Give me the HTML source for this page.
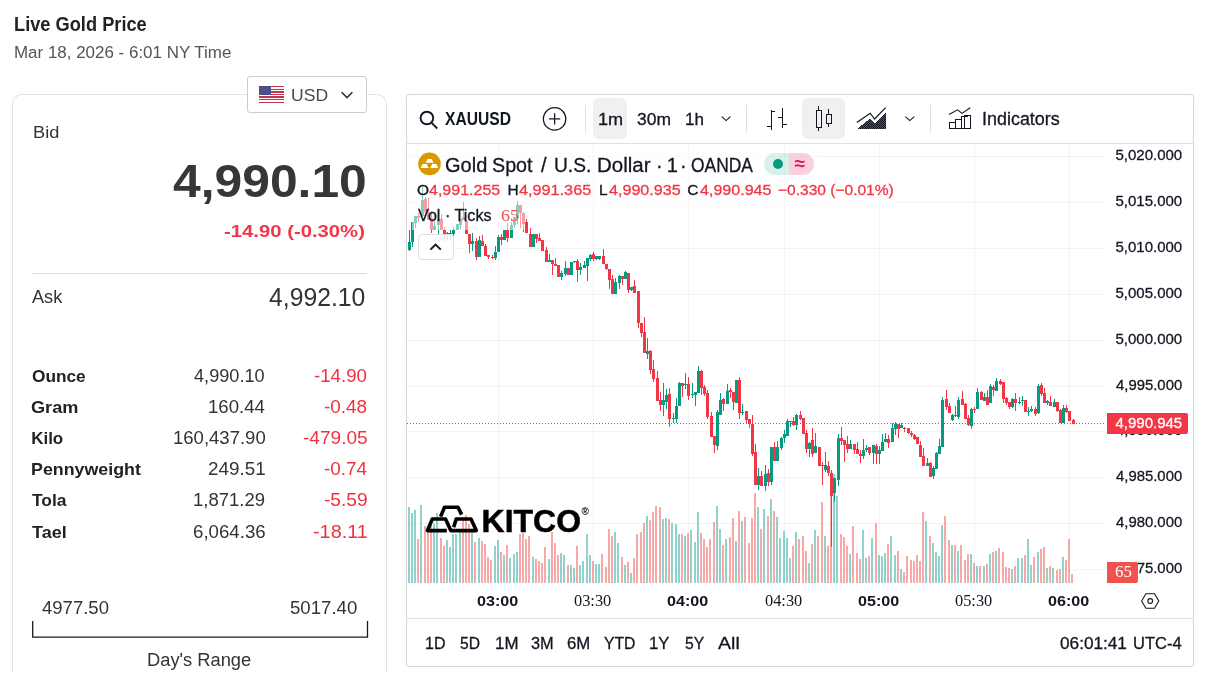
<!DOCTYPE html>
<html lang="en">
<head>
<meta charset="utf-8">
<title>Live Gold Price</title>
<style>
html,body{margin:0;padding:0;background:#fff;}
html{width:1211px;height:673px;overflow:hidden;}
body{width:1211px;height:673px;position:relative;overflow:hidden;font-family:"Liberation Sans",sans-serif;}
.t{position:absolute;white-space:pre;display:block;line-height:1;transform-origin:0 0;font-family:"Liberation Sans",sans-serif;font-weight:400;}
.sf{font-family:"Liberation Serif",serif;}
.abs{position:absolute;}
#card{left:12px;top:94px;width:373px;height:578px;border:1px solid #e4e4e4;border-bottom:none;border-radius:10px 10px 0 0;box-sizing:content-box;}
#cur{left:247px;top:76px;width:118px;height:35px;border:1px solid #ccc;border-radius:3px;background:#fff;}
#divider{left:32px;top:273px;width:335px;height:1px;background:#ddd;}
#bracket{left:32px;top:620.5px;}
#chart{left:406px;top:94px;width:786px;height:571px;border:1px solid #d6d6d6;border-radius:3px;background:#fff;}
#tbline{left:407px;top:143px;width:786px;height:1px;background:#e0e0e0;}
#btline{left:407px;top:618px;width:786px;height:1px;background:#e0e0e0;}
.sep{width:1px;height:28px;top:105px;background:#e0e0e0;}
.btn{top:98px;height:41px;border-radius:6px;background:#f0f0f0;}
#plot{left:407px;top:144px;width:699px;height:440px;overflow:hidden;}

.fade{background:rgba(255,255,255,0.5);}
#collapse{left:418px;top:234px;width:36px;height:26px;box-sizing:border-box;border:1px solid #e0e0e0;border-radius:4px;background:rgba(255,255,255,0.82);}
#dotline{left:407px;top:423px;width:699px;height:1px;background:repeating-linear-gradient(90deg,#f23645 0,#f23645 1px,transparent 1px,transparent 3px);}
#pill{left:764px;top:153px;width:50px;height:22px;border-radius:11px;overflow:hidden;}
#plabel{left:1107px;top:413px;width:81px;height:21px;background:#f23645;border-radius:0 2px 2px 0;}
#vlabel{left:1107px;top:562px;width:31px;height:21px;background:#ef5350;border-radius:0 2px 2px 0;}
</style>
</head>
<body>
<div id="card" class="abs"></div>
<div id="cur" class="abs">
<svg class="abs" style="left:11px;top:9px" width="25" height="17" viewBox="0 0 25 17" shape-rendering="crispEdges">
<rect width="25" height="17" fill="#fff"/>
<g fill="#c8334a"><rect y="0" width="25" height="1.4"/><rect y="2.6" width="25" height="1.3"/><rect y="5.2" width="25" height="1.3"/><rect y="7.8" width="25" height="1.3"/><rect y="10.4" width="25" height="1.3"/><rect y="13" width="25" height="1.3"/><rect y="15.6" width="25" height="1.4"/></g>
<rect width="12" height="9.2" fill="#4b4f8c"/>
</svg>
<svg class="abs" style="left:92px;top:13px" width="14" height="10" viewBox="0 0 14 10"><path d="M1.6 2.2 L7 7.6 L12.4 2.2" fill="none" stroke="#333" stroke-width="1.6"/></svg>
</div>
<div id="divider" class="abs"></div>
<svg id="bracket" class="abs" width="337" height="18" viewBox="0 0 337 18"><path d="M0.7 0 V16.1 H335.5 V0" fill="none" stroke="#1a1a1a" stroke-width="1.3"/></svg>
<div id="chart" class="abs"></div>
<div id="tbline" class="abs"></div>
<div id="btline" class="abs"></div>
<div class="abs sep" style="left:585px"></div>
<div class="abs sep" style="left:746px"></div>
<div class="abs sep" style="left:930px"></div>
<div class="abs btn" style="left:593px;width:34px"></div>
<div class="abs btn" style="left:802px;width:43px"></div>
<svg id="plot" class="abs" width="699" height="440" viewBox="0 0 699 440" shape-rendering="crispEdges">
<rect x="91" y="0" width="1" height="440" fill="rgba(0,0,0,0.043)"/>
<rect x="186" y="0" width="1" height="440" fill="rgba(0,0,0,0.043)"/>
<rect x="281" y="0" width="1" height="440" fill="rgba(0,0,0,0.043)"/>
<rect x="377" y="0" width="1" height="440" fill="rgba(0,0,0,0.043)"/>
<rect x="472" y="0" width="1" height="440" fill="rgba(0,0,0,0.043)"/>
<rect x="567" y="0" width="1" height="440" fill="rgba(0,0,0,0.043)"/>
<rect x="662" y="0" width="1" height="440" fill="rgba(0,0,0,0.043)"/>
<rect x="0" y="12" width="699" height="1" fill="rgba(0,0,0,0.043)"/>
<rect x="0" y="58" width="699" height="1" fill="rgba(0,0,0,0.043)"/>
<rect x="0" y="104" width="699" height="1" fill="rgba(0,0,0,0.043)"/>
<rect x="0" y="150" width="699" height="1" fill="rgba(0,0,0,0.043)"/>
<rect x="0" y="196" width="699" height="1" fill="rgba(0,0,0,0.043)"/>
<rect x="0" y="242" width="699" height="1" fill="rgba(0,0,0,0.043)"/>
<rect x="0" y="287" width="699" height="1" fill="rgba(0,0,0,0.043)"/>
<rect x="0" y="333" width="699" height="1" fill="rgba(0,0,0,0.043)"/>
<rect x="0" y="379" width="699" height="1" fill="rgba(0,0,0,0.043)"/>
<rect x="0" y="425" width="699" height="1" fill="rgba(0,0,0,0.043)"/>
<rect x="1" y="363" width="2" height="76" fill="rgba(38,166,154,0.5)"/>
<rect x="4" y="369" width="2" height="70" fill="rgba(38,166,154,0.5)"/>
<rect x="7" y="366" width="2" height="73" fill="rgba(38,166,154,0.5)"/>
<rect x="10" y="395" width="2" height="44" fill="rgba(239,83,80,0.5)"/>
<rect x="13" y="361" width="2" height="78" fill="rgba(38,166,154,0.5)"/>
<rect x="17" y="382" width="2" height="57" fill="rgba(239,83,80,0.5)"/>
<rect x="20" y="384" width="2" height="55" fill="rgba(239,83,80,0.5)"/>
<rect x="23" y="380" width="2" height="59" fill="rgba(239,83,80,0.5)"/>
<rect x="26" y="380" width="2" height="59" fill="rgba(38,166,154,0.5)"/>
<rect x="29" y="369" width="2" height="70" fill="rgba(38,166,154,0.5)"/>
<rect x="33" y="394" width="2" height="45" fill="rgba(239,83,80,0.5)"/>
<rect x="36" y="402" width="2" height="37" fill="rgba(239,83,80,0.5)"/>
<rect x="39" y="396" width="2" height="43" fill="rgba(38,166,154,0.5)"/>
<rect x="42" y="403" width="2" height="36" fill="rgba(38,166,154,0.5)"/>
<rect x="45" y="390" width="2" height="49" fill="rgba(38,166,154,0.5)"/>
<rect x="48" y="390" width="2" height="49" fill="rgba(38,166,154,0.5)"/>
<rect x="52" y="388" width="2" height="51" fill="rgba(38,166,154,0.5)"/>
<rect x="55" y="376" width="2" height="63" fill="rgba(239,83,80,0.5)"/>
<rect x="58" y="371" width="2" height="68" fill="rgba(239,83,80,0.5)"/>
<rect x="61" y="380" width="2" height="59" fill="rgba(239,83,80,0.5)"/>
<rect x="64" y="388" width="2" height="51" fill="rgba(38,166,154,0.5)"/>
<rect x="67" y="398" width="2" height="41" fill="rgba(239,83,80,0.5)"/>
<rect x="71" y="394" width="2" height="45" fill="rgba(38,166,154,0.5)"/>
<rect x="74" y="397" width="2" height="42" fill="rgba(239,83,80,0.5)"/>
<rect x="77" y="400" width="2" height="39" fill="rgba(239,83,80,0.5)"/>
<rect x="80" y="413" width="2" height="26" fill="rgba(239,83,80,0.5)"/>
<rect x="83" y="416" width="2" height="23" fill="rgba(239,83,80,0.5)"/>
<rect x="87" y="402" width="2" height="37" fill="rgba(38,166,154,0.5)"/>
<rect x="90" y="396" width="2" height="43" fill="rgba(38,166,154,0.5)"/>
<rect x="93" y="408" width="2" height="31" fill="rgba(239,83,80,0.5)"/>
<rect x="96" y="411" width="2" height="28" fill="rgba(38,166,154,0.5)"/>
<rect x="99" y="401" width="2" height="38" fill="rgba(239,83,80,0.5)"/>
<rect x="102" y="414" width="2" height="25" fill="rgba(38,166,154,0.5)"/>
<rect x="106" y="410" width="2" height="29" fill="rgba(38,166,154,0.5)"/>
<rect x="109" y="408" width="2" height="31" fill="rgba(38,166,154,0.5)"/>
<rect x="112" y="390" width="2" height="49" fill="rgba(239,83,80,0.5)"/>
<rect x="115" y="389" width="2" height="50" fill="rgba(239,83,80,0.5)"/>
<rect x="118" y="395" width="2" height="44" fill="rgba(239,83,80,0.5)"/>
<rect x="121" y="392" width="2" height="47" fill="rgba(239,83,80,0.5)"/>
<rect x="125" y="413" width="2" height="26" fill="rgba(38,166,154,0.5)"/>
<rect x="128" y="415" width="2" height="24" fill="rgba(239,83,80,0.5)"/>
<rect x="131" y="417" width="2" height="22" fill="rgba(239,83,80,0.5)"/>
<rect x="134" y="419" width="2" height="20" fill="rgba(239,83,80,0.5)"/>
<rect x="137" y="403" width="2" height="36" fill="rgba(239,83,80,0.5)"/>
<rect x="141" y="415" width="2" height="24" fill="rgba(38,166,154,0.5)"/>
<rect x="144" y="388" width="2" height="51" fill="rgba(239,83,80,0.5)"/>
<rect x="147" y="399" width="2" height="40" fill="rgba(239,83,80,0.5)"/>
<rect x="150" y="411" width="2" height="28" fill="rgba(239,83,80,0.5)"/>
<rect x="153" y="409" width="2" height="30" fill="rgba(38,166,154,0.5)"/>
<rect x="156" y="411" width="2" height="28" fill="rgba(38,166,154,0.5)"/>
<rect x="160" y="421" width="2" height="18" fill="rgba(239,83,80,0.5)"/>
<rect x="163" y="421" width="2" height="18" fill="rgba(38,166,154,0.5)"/>
<rect x="166" y="424" width="2" height="15" fill="rgba(38,166,154,0.5)"/>
<rect x="169" y="402" width="2" height="37" fill="rgba(239,83,80,0.5)"/>
<rect x="172" y="421" width="2" height="18" fill="rgba(38,166,154,0.5)"/>
<rect x="175" y="417" width="2" height="22" fill="rgba(38,166,154,0.5)"/>
<rect x="179" y="390" width="2" height="49" fill="rgba(38,166,154,0.5)"/>
<rect x="182" y="411" width="2" height="28" fill="rgba(38,166,154,0.5)"/>
<rect x="185" y="417" width="2" height="22" fill="rgba(239,83,80,0.5)"/>
<rect x="188" y="420" width="2" height="19" fill="rgba(38,166,154,0.5)"/>
<rect x="191" y="420" width="2" height="19" fill="rgba(38,166,154,0.5)"/>
<rect x="194" y="410" width="2" height="29" fill="rgba(239,83,80,0.5)"/>
<rect x="198" y="423" width="2" height="16" fill="rgba(239,83,80,0.5)"/>
<rect x="201" y="385" width="2" height="54" fill="rgba(239,83,80,0.5)"/>
<rect x="204" y="392" width="2" height="47" fill="rgba(239,83,80,0.5)"/>
<rect x="207" y="388" width="2" height="51" fill="rgba(38,166,154,0.5)"/>
<rect x="210" y="399" width="2" height="40" fill="rgba(38,166,154,0.5)"/>
<rect x="214" y="413" width="2" height="26" fill="rgba(239,83,80,0.5)"/>
<rect x="217" y="421" width="2" height="18" fill="rgba(38,166,154,0.5)"/>
<rect x="220" y="418" width="2" height="21" fill="rgba(239,83,80,0.5)"/>
<rect x="223" y="429" width="2" height="10" fill="rgba(38,166,154,0.5)"/>
<rect x="226" y="414" width="2" height="25" fill="rgba(239,83,80,0.5)"/>
<rect x="229" y="390" width="2" height="49" fill="rgba(239,83,80,0.5)"/>
<rect x="233" y="388" width="2" height="51" fill="rgba(239,83,80,0.5)"/>
<rect x="236" y="379" width="2" height="60" fill="rgba(239,83,80,0.5)"/>
<rect x="239" y="372" width="2" height="67" fill="rgba(38,166,154,0.5)"/>
<rect x="242" y="376" width="2" height="63" fill="rgba(239,83,80,0.5)"/>
<rect x="245" y="368" width="2" height="71" fill="rgba(239,83,80,0.5)"/>
<rect x="248" y="362" width="2" height="77" fill="rgba(239,83,80,0.5)"/>
<rect x="252" y="363" width="2" height="76" fill="rgba(239,83,80,0.5)"/>
<rect x="255" y="375" width="2" height="64" fill="rgba(38,166,154,0.5)"/>
<rect x="258" y="374" width="2" height="65" fill="rgba(38,166,154,0.5)"/>
<rect x="261" y="375" width="2" height="64" fill="rgba(239,83,80,0.5)"/>
<rect x="264" y="379" width="2" height="60" fill="rgba(38,166,154,0.5)"/>
<rect x="268" y="380" width="2" height="59" fill="rgba(38,166,154,0.5)"/>
<rect x="271" y="390" width="2" height="49" fill="rgba(38,166,154,0.5)"/>
<rect x="274" y="390" width="2" height="49" fill="rgba(239,83,80,0.5)"/>
<rect x="277" y="392" width="2" height="47" fill="rgba(38,166,154,0.5)"/>
<rect x="280" y="389" width="2" height="50" fill="rgba(239,83,80,0.5)"/>
<rect x="283" y="386" width="2" height="53" fill="rgba(38,166,154,0.5)"/>
<rect x="287" y="398" width="2" height="41" fill="rgba(38,166,154,0.5)"/>
<rect x="290" y="368" width="2" height="71" fill="rgba(38,166,154,0.5)"/>
<rect x="293" y="389" width="2" height="50" fill="rgba(239,83,80,0.5)"/>
<rect x="296" y="395" width="2" height="44" fill="rgba(239,83,80,0.5)"/>
<rect x="299" y="403" width="2" height="36" fill="rgba(239,83,80,0.5)"/>
<rect x="302" y="395" width="2" height="44" fill="rgba(239,83,80,0.5)"/>
<rect x="306" y="378" width="2" height="61" fill="rgba(239,83,80,0.5)"/>
<rect x="309" y="362" width="2" height="77" fill="rgba(38,166,154,0.5)"/>
<rect x="312" y="385" width="2" height="54" fill="rgba(38,166,154,0.5)"/>
<rect x="315" y="401" width="2" height="38" fill="rgba(239,83,80,0.5)"/>
<rect x="318" y="395" width="2" height="44" fill="rgba(38,166,154,0.5)"/>
<rect x="322" y="393" width="2" height="46" fill="rgba(239,83,80,0.5)"/>
<rect x="325" y="374" width="2" height="65" fill="rgba(239,83,80,0.5)"/>
<rect x="328" y="397" width="2" height="42" fill="rgba(38,166,154,0.5)"/>
<rect x="331" y="367" width="2" height="72" fill="rgba(239,83,80,0.5)"/>
<rect x="334" y="377" width="2" height="62" fill="rgba(38,166,154,0.5)"/>
<rect x="337" y="373" width="2" height="66" fill="rgba(239,83,80,0.5)"/>
<rect x="341" y="399" width="2" height="40" fill="rgba(239,83,80,0.5)"/>
<rect x="344" y="374" width="2" height="65" fill="rgba(239,83,80,0.5)"/>
<rect x="347" y="349" width="2" height="90" fill="rgba(239,83,80,0.5)"/>
<rect x="350" y="363" width="2" height="76" fill="rgba(38,166,154,0.5)"/>
<rect x="353" y="385" width="2" height="54" fill="rgba(239,83,80,0.5)"/>
<rect x="356" y="365" width="2" height="74" fill="rgba(38,166,154,0.5)"/>
<rect x="360" y="372" width="2" height="67" fill="rgba(239,83,80,0.5)"/>
<rect x="363" y="355" width="2" height="84" fill="rgba(38,166,154,0.5)"/>
<rect x="366" y="367" width="2" height="72" fill="rgba(239,83,80,0.5)"/>
<rect x="369" y="373" width="2" height="66" fill="rgba(38,166,154,0.5)"/>
<rect x="372" y="394" width="2" height="45" fill="rgba(38,166,154,0.5)"/>
<rect x="376" y="387" width="2" height="52" fill="rgba(38,166,154,0.5)"/>
<rect x="379" y="394" width="2" height="45" fill="rgba(38,166,154,0.5)"/>
<rect x="382" y="414" width="2" height="25" fill="rgba(38,166,154,0.5)"/>
<rect x="385" y="402" width="2" height="37" fill="rgba(239,83,80,0.5)"/>
<rect x="388" y="388" width="2" height="51" fill="rgba(38,166,154,0.5)"/>
<rect x="391" y="395" width="2" height="44" fill="rgba(239,83,80,0.5)"/>
<rect x="395" y="392" width="2" height="47" fill="rgba(239,83,80,0.5)"/>
<rect x="398" y="407" width="2" height="32" fill="rgba(239,83,80,0.5)"/>
<rect x="401" y="419" width="2" height="20" fill="rgba(38,166,154,0.5)"/>
<rect x="404" y="400" width="2" height="39" fill="rgba(239,83,80,0.5)"/>
<rect x="407" y="386" width="2" height="53" fill="rgba(38,166,154,0.5)"/>
<rect x="410" y="392" width="2" height="47" fill="rgba(239,83,80,0.5)"/>
<rect x="414" y="358" width="2" height="81" fill="rgba(239,83,80,0.5)"/>
<rect x="417" y="392" width="2" height="47" fill="rgba(38,166,154,0.5)"/>
<rect x="420" y="402" width="2" height="37" fill="rgba(239,83,80,0.5)"/>
<rect x="423" y="336" width="2" height="103" fill="rgba(239,83,80,0.5)"/>
<rect x="426" y="330" width="2" height="109" fill="rgba(38,166,154,0.5)"/>
<rect x="429" y="352" width="2" height="87" fill="rgba(38,166,154,0.5)"/>
<rect x="433" y="390" width="2" height="49" fill="rgba(239,83,80,0.5)"/>
<rect x="436" y="393" width="2" height="46" fill="rgba(239,83,80,0.5)"/>
<rect x="439" y="402" width="2" height="37" fill="rgba(239,83,80,0.5)"/>
<rect x="442" y="410" width="2" height="29" fill="rgba(38,166,154,0.5)"/>
<rect x="445" y="382" width="2" height="57" fill="rgba(239,83,80,0.5)"/>
<rect x="449" y="409" width="2" height="30" fill="rgba(239,83,80,0.5)"/>
<rect x="452" y="415" width="2" height="24" fill="rgba(239,83,80,0.5)"/>
<rect x="455" y="386" width="2" height="53" fill="rgba(38,166,154,0.5)"/>
<rect x="458" y="414" width="2" height="25" fill="rgba(38,166,154,0.5)"/>
<rect x="461" y="412" width="2" height="27" fill="rgba(239,83,80,0.5)"/>
<rect x="464" y="394" width="2" height="45" fill="rgba(38,166,154,0.5)"/>
<rect x="468" y="379" width="2" height="60" fill="rgba(239,83,80,0.5)"/>
<rect x="471" y="411" width="2" height="28" fill="rgba(38,166,154,0.5)"/>
<rect x="474" y="412" width="2" height="27" fill="rgba(38,166,154,0.5)"/>
<rect x="477" y="409" width="2" height="30" fill="rgba(38,166,154,0.5)"/>
<rect x="480" y="400" width="2" height="39" fill="rgba(239,83,80,0.5)"/>
<rect x="483" y="392" width="2" height="47" fill="rgba(38,166,154,0.5)"/>
<rect x="487" y="411" width="2" height="28" fill="rgba(38,166,154,0.5)"/>
<rect x="490" y="407" width="2" height="32" fill="rgba(239,83,80,0.5)"/>
<rect x="493" y="425" width="2" height="14" fill="rgba(38,166,154,0.5)"/>
<rect x="496" y="428" width="2" height="11" fill="rgba(239,83,80,0.5)"/>
<rect x="499" y="412" width="2" height="27" fill="rgba(239,83,80,0.5)"/>
<rect x="503" y="416" width="2" height="23" fill="rgba(239,83,80,0.5)"/>
<rect x="506" y="417" width="2" height="22" fill="rgba(239,83,80,0.5)"/>
<rect x="509" y="411" width="2" height="28" fill="rgba(239,83,80,0.5)"/>
<rect x="512" y="417" width="2" height="22" fill="rgba(239,83,80,0.5)"/>
<rect x="515" y="368" width="2" height="71" fill="rgba(239,83,80,0.5)"/>
<rect x="518" y="377" width="2" height="62" fill="rgba(38,166,154,0.5)"/>
<rect x="522" y="392" width="2" height="47" fill="rgba(239,83,80,0.5)"/>
<rect x="525" y="399" width="2" height="40" fill="rgba(38,166,154,0.5)"/>
<rect x="528" y="408" width="2" height="31" fill="rgba(38,166,154,0.5)"/>
<rect x="531" y="412" width="2" height="27" fill="rgba(38,166,154,0.5)"/>
<rect x="534" y="381" width="2" height="58" fill="rgba(38,166,154,0.5)"/>
<rect x="537" y="372" width="2" height="67" fill="rgba(239,83,80,0.5)"/>
<rect x="541" y="396" width="2" height="43" fill="rgba(239,83,80,0.5)"/>
<rect x="544" y="401" width="2" height="38" fill="rgba(38,166,154,0.5)"/>
<rect x="547" y="401" width="2" height="38" fill="rgba(239,83,80,0.5)"/>
<rect x="550" y="407" width="2" height="32" fill="rgba(38,166,154,0.5)"/>
<rect x="553" y="401" width="2" height="38" fill="rgba(239,83,80,0.5)"/>
<rect x="557" y="416" width="2" height="23" fill="rgba(239,83,80,0.5)"/>
<rect x="560" y="410" width="2" height="29" fill="rgba(239,83,80,0.5)"/>
<rect x="563" y="410" width="2" height="29" fill="rgba(38,166,154,0.5)"/>
<rect x="566" y="419" width="2" height="20" fill="rgba(239,83,80,0.5)"/>
<rect x="569" y="422" width="2" height="17" fill="rgba(38,166,154,0.5)"/>
<rect x="572" y="422" width="2" height="17" fill="rgba(239,83,80,0.5)"/>
<rect x="576" y="422" width="2" height="17" fill="rgba(38,166,154,0.5)"/>
<rect x="579" y="420" width="2" height="19" fill="rgba(239,83,80,0.5)"/>
<rect x="582" y="410" width="2" height="29" fill="rgba(38,166,154,0.5)"/>
<rect x="585" y="408" width="2" height="31" fill="rgba(239,83,80,0.5)"/>
<rect x="588" y="407" width="2" height="32" fill="rgba(38,166,154,0.5)"/>
<rect x="591" y="404" width="2" height="35" fill="rgba(239,83,80,0.5)"/>
<rect x="595" y="408" width="2" height="31" fill="rgba(239,83,80,0.5)"/>
<rect x="598" y="423" width="2" height="16" fill="rgba(239,83,80,0.5)"/>
<rect x="601" y="424" width="2" height="15" fill="rgba(239,83,80,0.5)"/>
<rect x="604" y="425" width="2" height="14" fill="rgba(38,166,154,0.5)"/>
<rect x="607" y="422" width="2" height="17" fill="rgba(239,83,80,0.5)"/>
<rect x="610" y="414" width="2" height="25" fill="rgba(38,166,154,0.5)"/>
<rect x="614" y="414" width="2" height="25" fill="rgba(38,166,154,0.5)"/>
<rect x="617" y="411" width="2" height="28" fill="rgba(239,83,80,0.5)"/>
<rect x="620" y="395" width="2" height="44" fill="rgba(38,166,154,0.5)"/>
<rect x="623" y="421" width="2" height="18" fill="rgba(38,166,154,0.5)"/>
<rect x="626" y="413" width="2" height="26" fill="rgba(239,83,80,0.5)"/>
<rect x="630" y="408" width="2" height="31" fill="rgba(38,166,154,0.5)"/>
<rect x="633" y="405" width="2" height="34" fill="rgba(239,83,80,0.5)"/>
<rect x="636" y="403" width="2" height="36" fill="rgba(239,83,80,0.5)"/>
<rect x="639" y="424" width="2" height="15" fill="rgba(38,166,154,0.5)"/>
<rect x="642" y="422" width="2" height="17" fill="rgba(239,83,80,0.5)"/>
<rect x="645" y="424" width="2" height="15" fill="rgba(38,166,154,0.5)"/>
<rect x="649" y="426" width="2" height="13" fill="rgba(239,83,80,0.5)"/>
<rect x="652" y="425" width="2" height="14" fill="rgba(239,83,80,0.5)"/>
<rect x="655" y="413" width="2" height="26" fill="rgba(38,166,154,0.5)"/>
<rect x="658" y="416" width="2" height="23" fill="rgba(239,83,80,0.5)"/>
<rect x="661" y="395" width="2" height="44" fill="rgba(239,83,80,0.5)"/>
<rect x="664" y="430" width="2" height="9" fill="rgba(239,83,80,0.5)"/>
<rect x="2" y="86" width="1" height="21" fill="#089981"/>
<rect x="1" y="98" width="3" height="8" fill="#089981"/>
<rect x="5" y="78" width="1" height="25" fill="#089981"/>
<rect x="4" y="78" width="3" height="20" fill="#089981"/>
<rect x="8" y="72" width="1" height="12" fill="#089981"/>
<rect x="7" y="72" width="3" height="7" fill="#089981"/>
<rect x="11" y="69" width="1" height="9" fill="#f23645"/>
<rect x="10" y="72" width="3" height="2" fill="#f23645"/>
<rect x="15" y="43" width="1" height="29" fill="#089981"/>
<rect x="14" y="56" width="3" height="16" fill="#089981"/>
<rect x="18" y="53" width="1" height="15" fill="#f23645"/>
<rect x="17" y="55" width="3" height="13" fill="#f23645"/>
<rect x="21" y="54" width="1" height="22" fill="#f23645"/>
<rect x="20" y="68" width="3" height="8" fill="#f23645"/>
<rect x="24" y="67" width="1" height="22" fill="#f23645"/>
<rect x="23" y="74" width="3" height="12" fill="#f23645"/>
<rect x="27" y="77" width="1" height="9" fill="#089981"/>
<rect x="26" y="82" width="3" height="4" fill="#089981"/>
<rect x="31" y="75" width="1" height="15" fill="#089981"/>
<rect x="30" y="75" width="3" height="6" fill="#089981"/>
<rect x="34" y="70" width="1" height="16" fill="#f23645"/>
<rect x="33" y="75" width="3" height="11" fill="#f23645"/>
<rect x="37" y="83" width="1" height="14" fill="#f23645"/>
<rect x="36" y="86" width="3" height="4" fill="#f23645"/>
<rect x="40" y="88" width="1" height="8" fill="#089981"/>
<rect x="39" y="89" width="3" height="1" fill="#089981"/>
<rect x="43" y="86" width="1" height="11" fill="#089981"/>
<rect x="42" y="89" width="3" height="1" fill="#089981"/>
<rect x="46" y="83" width="1" height="9" fill="#089981"/>
<rect x="45" y="86" width="3" height="4" fill="#089981"/>
<rect x="49" y="80" width="3" height="6" fill="#089981"/>
<rect x="53" y="75" width="1" height="10" fill="#089981"/>
<rect x="52" y="75" width="3" height="6" fill="#089981"/>
<rect x="56" y="58" width="1" height="18" fill="#f23645"/>
<rect x="55" y="73" width="3" height="3" fill="#f23645"/>
<rect x="58" y="76" width="3" height="14" fill="#f23645"/>
<rect x="62" y="90" width="1" height="19" fill="#f23645"/>
<rect x="61" y="90" width="3" height="10" fill="#f23645"/>
<rect x="65" y="89" width="1" height="18" fill="#089981"/>
<rect x="64" y="97" width="3" height="3" fill="#089981"/>
<rect x="69" y="94" width="1" height="22" fill="#f23645"/>
<rect x="68" y="97" width="3" height="16" fill="#f23645"/>
<rect x="72" y="92" width="1" height="21" fill="#089981"/>
<rect x="71" y="96" width="3" height="17" fill="#089981"/>
<rect x="75" y="91" width="1" height="11" fill="#f23645"/>
<rect x="74" y="97" width="3" height="5" fill="#f23645"/>
<rect x="78" y="100" width="1" height="12" fill="#f23645"/>
<rect x="77" y="102" width="3" height="10" fill="#f23645"/>
<rect x="81" y="111" width="1" height="4" fill="#f23645"/>
<rect x="80" y="111" width="3" height="2" fill="#f23645"/>
<rect x="85" y="111" width="1" height="4" fill="#f23645"/>
<rect x="84" y="113" width="3" height="1" fill="#f23645"/>
<rect x="88" y="102" width="1" height="14" fill="#089981"/>
<rect x="87" y="108" width="3" height="6" fill="#089981"/>
<rect x="91" y="91" width="1" height="17" fill="#089981"/>
<rect x="90" y="93" width="3" height="15" fill="#089981"/>
<rect x="94" y="90" width="1" height="11" fill="#f23645"/>
<rect x="93" y="93" width="3" height="3" fill="#f23645"/>
<rect x="96" y="86" width="3" height="10" fill="#089981"/>
<rect x="100" y="79" width="1" height="19" fill="#f23645"/>
<rect x="99" y="86" width="3" height="8" fill="#f23645"/>
<rect x="104" y="78" width="1" height="16" fill="#089981"/>
<rect x="103" y="81" width="3" height="13" fill="#089981"/>
<rect x="107" y="73" width="1" height="11" fill="#089981"/>
<rect x="106" y="73" width="3" height="8" fill="#089981"/>
<rect x="110" y="57" width="1" height="23" fill="#089981"/>
<rect x="109" y="61" width="3" height="13" fill="#089981"/>
<rect x="113" y="61" width="1" height="23" fill="#f23645"/>
<rect x="112" y="61" width="3" height="8" fill="#f23645"/>
<rect x="116" y="68" width="1" height="20" fill="#f23645"/>
<rect x="115" y="69" width="3" height="11" fill="#f23645"/>
<rect x="119" y="75" width="1" height="14" fill="#f23645"/>
<rect x="118" y="78" width="3" height="11" fill="#f23645"/>
<rect x="123" y="84" width="1" height="19" fill="#f23645"/>
<rect x="122" y="90" width="3" height="13" fill="#f23645"/>
<rect x="125" y="90" width="3" height="13" fill="#089981"/>
<rect x="129" y="90" width="1" height="9" fill="#f23645"/>
<rect x="128" y="90" width="3" height="5" fill="#f23645"/>
<rect x="132" y="89" width="1" height="8" fill="#f23645"/>
<rect x="131" y="94" width="3" height="3" fill="#f23645"/>
<rect x="134" y="96" width="3" height="11" fill="#f23645"/>
<rect x="139" y="103" width="1" height="15" fill="#f23645"/>
<rect x="138" y="106" width="3" height="12" fill="#f23645"/>
<rect x="142" y="110" width="1" height="8" fill="#089981"/>
<rect x="141" y="116" width="3" height="2" fill="#089981"/>
<rect x="145" y="116" width="1" height="15" fill="#f23645"/>
<rect x="144" y="116" width="3" height="4" fill="#f23645"/>
<rect x="148" y="114" width="1" height="8" fill="#f23645"/>
<rect x="147" y="120" width="3" height="2" fill="#f23645"/>
<rect x="150" y="121" width="3" height="12" fill="#f23645"/>
<rect x="154" y="127" width="1" height="9" fill="#089981"/>
<rect x="153" y="129" width="3" height="4" fill="#089981"/>
<rect x="158" y="117" width="1" height="15" fill="#089981"/>
<rect x="157" y="124" width="3" height="6" fill="#089981"/>
<rect x="160" y="124" width="3" height="7" fill="#f23645"/>
<rect x="163" y="118" width="3" height="13" fill="#089981"/>
<rect x="167" y="117" width="1" height="2" fill="#089981"/>
<rect x="166" y="117" width="3" height="1" fill="#089981"/>
<rect x="170" y="115" width="1" height="23" fill="#f23645"/>
<rect x="169" y="117" width="3" height="9" fill="#f23645"/>
<rect x="173" y="119" width="1" height="12" fill="#089981"/>
<rect x="172" y="123" width="3" height="3" fill="#089981"/>
<rect x="177" y="117" width="1" height="7" fill="#089981"/>
<rect x="176" y="121" width="3" height="3" fill="#089981"/>
<rect x="180" y="114" width="1" height="23" fill="#089981"/>
<rect x="179" y="114" width="3" height="8" fill="#089981"/>
<rect x="183" y="110" width="1" height="7" fill="#089981"/>
<rect x="182" y="111" width="3" height="4" fill="#089981"/>
<rect x="186" y="108" width="1" height="9" fill="#f23645"/>
<rect x="185" y="110" width="3" height="5" fill="#f23645"/>
<rect x="189" y="112" width="1" height="4" fill="#089981"/>
<rect x="188" y="112" width="3" height="3" fill="#089981"/>
<rect x="192" y="112" width="1" height="4" fill="#089981"/>
<rect x="191" y="112" width="3" height="3" fill="#089981"/>
<rect x="196" y="105" width="1" height="15" fill="#f23645"/>
<rect x="195" y="112" width="3" height="8" fill="#f23645"/>
<rect x="199" y="120" width="1" height="6" fill="#f23645"/>
<rect x="198" y="120" width="3" height="5" fill="#f23645"/>
<rect x="202" y="125" width="1" height="20" fill="#f23645"/>
<rect x="201" y="125" width="3" height="11" fill="#f23645"/>
<rect x="205" y="131" width="1" height="19" fill="#f23645"/>
<rect x="204" y="135" width="3" height="15" fill="#f23645"/>
<rect x="208" y="134" width="1" height="16" fill="#089981"/>
<rect x="207" y="138" width="3" height="12" fill="#089981"/>
<rect x="212" y="131" width="1" height="14" fill="#089981"/>
<rect x="211" y="132" width="3" height="7" fill="#089981"/>
<rect x="215" y="132" width="1" height="9" fill="#f23645"/>
<rect x="214" y="132" width="3" height="3" fill="#f23645"/>
<rect x="218" y="127" width="1" height="8" fill="#089981"/>
<rect x="217" y="128" width="3" height="7" fill="#089981"/>
<rect x="221" y="129" width="1" height="20" fill="#f23645"/>
<rect x="220" y="129" width="3" height="17" fill="#f23645"/>
<rect x="224" y="143" width="1" height="4" fill="#089981"/>
<rect x="223" y="143" width="3" height="3" fill="#089981"/>
<rect x="227" y="136" width="1" height="13" fill="#f23645"/>
<rect x="226" y="142" width="3" height="7" fill="#f23645"/>
<rect x="231" y="147" width="1" height="37" fill="#f23645"/>
<rect x="230" y="147" width="3" height="32" fill="#f23645"/>
<rect x="234" y="179" width="1" height="14" fill="#f23645"/>
<rect x="233" y="179" width="3" height="10" fill="#f23645"/>
<rect x="237" y="173" width="1" height="36" fill="#f23645"/>
<rect x="236" y="188" width="3" height="21" fill="#f23645"/>
<rect x="240" y="194" width="1" height="21" fill="#089981"/>
<rect x="239" y="207" width="3" height="3" fill="#089981"/>
<rect x="243" y="206" width="1" height="24" fill="#f23645"/>
<rect x="242" y="207" width="3" height="19" fill="#f23645"/>
<rect x="246" y="216" width="1" height="22" fill="#f23645"/>
<rect x="245" y="225" width="3" height="10" fill="#f23645"/>
<rect x="250" y="227" width="1" height="30" fill="#f23645"/>
<rect x="249" y="234" width="3" height="23" fill="#f23645"/>
<rect x="253" y="248" width="1" height="19" fill="#f23645"/>
<rect x="252" y="256" width="3" height="5" fill="#f23645"/>
<rect x="256" y="239" width="1" height="33" fill="#089981"/>
<rect x="255" y="256" width="3" height="5" fill="#089981"/>
<rect x="259" y="245" width="1" height="20" fill="#089981"/>
<rect x="258" y="251" width="3" height="7" fill="#089981"/>
<rect x="262" y="244" width="1" height="39" fill="#f23645"/>
<rect x="261" y="250" width="3" height="25" fill="#f23645"/>
<rect x="266" y="269" width="1" height="10" fill="#089981"/>
<rect x="265" y="274" width="3" height="1" fill="#089981"/>
<rect x="269" y="254" width="1" height="25" fill="#089981"/>
<rect x="268" y="262" width="3" height="13" fill="#089981"/>
<rect x="272" y="238" width="1" height="24" fill="#089981"/>
<rect x="271" y="239" width="3" height="23" fill="#089981"/>
<rect x="275" y="239" width="1" height="14" fill="#f23645"/>
<rect x="274" y="239" width="3" height="3" fill="#f23645"/>
<rect x="278" y="229" width="1" height="16" fill="#089981"/>
<rect x="277" y="240" width="3" height="1" fill="#089981"/>
<rect x="281" y="233" width="1" height="23" fill="#f23645"/>
<rect x="280" y="240" width="3" height="12" fill="#f23645"/>
<rect x="285" y="239" width="1" height="15" fill="#089981"/>
<rect x="284" y="250" width="3" height="1" fill="#089981"/>
<rect x="288" y="248" width="1" height="14" fill="#089981"/>
<rect x="287" y="248" width="3" height="3" fill="#089981"/>
<rect x="291" y="222" width="1" height="27" fill="#089981"/>
<rect x="290" y="227" width="3" height="22" fill="#089981"/>
<rect x="294" y="226" width="1" height="25" fill="#f23645"/>
<rect x="293" y="227" width="3" height="17" fill="#f23645"/>
<rect x="297" y="241" width="1" height="11" fill="#f23645"/>
<rect x="296" y="243" width="3" height="7" fill="#f23645"/>
<rect x="300" y="246" width="1" height="29" fill="#f23645"/>
<rect x="299" y="249" width="3" height="24" fill="#f23645"/>
<rect x="304" y="268" width="1" height="25" fill="#f23645"/>
<rect x="303" y="272" width="3" height="21" fill="#f23645"/>
<rect x="307" y="292" width="1" height="17" fill="#f23645"/>
<rect x="306" y="292" width="3" height="9" fill="#f23645"/>
<rect x="310" y="266" width="1" height="40" fill="#089981"/>
<rect x="309" y="268" width="3" height="34" fill="#089981"/>
<rect x="313" y="249" width="1" height="22" fill="#089981"/>
<rect x="312" y="256" width="3" height="15" fill="#089981"/>
<rect x="316" y="254" width="1" height="13" fill="#f23645"/>
<rect x="315" y="255" width="3" height="5" fill="#f23645"/>
<rect x="320" y="240" width="1" height="20" fill="#089981"/>
<rect x="319" y="247" width="3" height="13" fill="#089981"/>
<rect x="323" y="244" width="1" height="10" fill="#f23645"/>
<rect x="322" y="246" width="3" height="2" fill="#f23645"/>
<rect x="326" y="248" width="1" height="18" fill="#f23645"/>
<rect x="325" y="248" width="3" height="10" fill="#f23645"/>
<rect x="328" y="236" width="3" height="23" fill="#089981"/>
<rect x="332" y="233" width="1" height="42" fill="#f23645"/>
<rect x="331" y="236" width="3" height="33" fill="#f23645"/>
<rect x="335" y="260" width="1" height="11" fill="#089981"/>
<rect x="334" y="268" width="3" height="1" fill="#089981"/>
<rect x="339" y="267" width="1" height="13" fill="#f23645"/>
<rect x="338" y="267" width="3" height="9" fill="#f23645"/>
<rect x="342" y="275" width="1" height="9" fill="#f23645"/>
<rect x="341" y="275" width="3" height="5" fill="#f23645"/>
<rect x="345" y="271" width="1" height="41" fill="#f23645"/>
<rect x="344" y="280" width="3" height="30" fill="#f23645"/>
<rect x="348" y="300" width="1" height="41" fill="#f23645"/>
<rect x="347" y="308" width="3" height="33" fill="#f23645"/>
<rect x="351" y="324" width="1" height="22" fill="#089981"/>
<rect x="350" y="332" width="3" height="9" fill="#089981"/>
<rect x="354" y="327" width="1" height="15" fill="#f23645"/>
<rect x="353" y="332" width="3" height="10" fill="#f23645"/>
<rect x="358" y="321" width="1" height="26" fill="#089981"/>
<rect x="357" y="330" width="3" height="12" fill="#089981"/>
<rect x="361" y="325" width="1" height="17" fill="#f23645"/>
<rect x="360" y="329" width="3" height="9" fill="#f23645"/>
<rect x="364" y="303" width="1" height="38" fill="#089981"/>
<rect x="363" y="303" width="3" height="35" fill="#089981"/>
<rect x="367" y="298" width="1" height="19" fill="#f23645"/>
<rect x="366" y="303" width="3" height="14" fill="#f23645"/>
<rect x="370" y="297" width="1" height="20" fill="#089981"/>
<rect x="369" y="303" width="3" height="14" fill="#089981"/>
<rect x="374" y="293" width="1" height="13" fill="#089981"/>
<rect x="373" y="294" width="3" height="10" fill="#089981"/>
<rect x="377" y="286" width="1" height="13" fill="#089981"/>
<rect x="376" y="290" width="3" height="4" fill="#089981"/>
<rect x="380" y="275" width="1" height="17" fill="#089981"/>
<rect x="379" y="277" width="3" height="15" fill="#089981"/>
<rect x="383" y="277" width="1" height="6" fill="#089981"/>
<rect x="382" y="277" width="3" height="1" fill="#089981"/>
<rect x="386" y="273" width="1" height="9" fill="#f23645"/>
<rect x="385" y="277" width="3" height="4" fill="#f23645"/>
<rect x="389" y="270" width="1" height="16" fill="#089981"/>
<rect x="388" y="271" width="3" height="10" fill="#089981"/>
<rect x="393" y="267" width="1" height="9" fill="#f23645"/>
<rect x="392" y="271" width="3" height="4" fill="#f23645"/>
<rect x="395" y="274" width="3" height="16" fill="#f23645"/>
<rect x="399" y="286" width="1" height="23" fill="#f23645"/>
<rect x="398" y="289" width="3" height="16" fill="#f23645"/>
<rect x="402" y="298" width="1" height="15" fill="#089981"/>
<rect x="401" y="299" width="3" height="6" fill="#089981"/>
<rect x="405" y="284" width="1" height="29" fill="#f23645"/>
<rect x="404" y="296" width="3" height="14" fill="#f23645"/>
<rect x="408" y="289" width="1" height="20" fill="#089981"/>
<rect x="407" y="302" width="3" height="7" fill="#089981"/>
<rect x="411" y="303" width="3" height="19" fill="#f23645"/>
<rect x="415" y="318" width="1" height="23" fill="#f23645"/>
<rect x="414" y="321" width="3" height="1" fill="#f23645"/>
<rect x="418" y="308" width="1" height="20" fill="#089981"/>
<rect x="417" y="321" width="3" height="5" fill="#089981"/>
<rect x="421" y="317" width="1" height="15" fill="#f23645"/>
<rect x="420" y="322" width="3" height="7" fill="#f23645"/>
<rect x="424" y="326" width="1" height="77" fill="#f23645"/>
<rect x="423" y="329" width="3" height="23" fill="#f23645"/>
<rect x="427" y="334" width="1" height="24" fill="#089981"/>
<rect x="426" y="334" width="3" height="15" fill="#089981"/>
<rect x="431" y="290" width="1" height="52" fill="#089981"/>
<rect x="430" y="294" width="3" height="42" fill="#089981"/>
<rect x="434" y="283" width="1" height="18" fill="#f23645"/>
<rect x="433" y="294" width="3" height="3" fill="#f23645"/>
<rect x="437" y="296" width="1" height="22" fill="#f23645"/>
<rect x="436" y="296" width="3" height="5" fill="#f23645"/>
<rect x="440" y="292" width="1" height="17" fill="#f23645"/>
<rect x="439" y="300" width="3" height="5" fill="#f23645"/>
<rect x="443" y="296" width="1" height="9" fill="#089981"/>
<rect x="442" y="300" width="3" height="5" fill="#089981"/>
<rect x="447" y="300" width="1" height="10" fill="#f23645"/>
<rect x="446" y="300" width="3" height="6" fill="#f23645"/>
<rect x="450" y="298" width="1" height="12" fill="#f23645"/>
<rect x="449" y="305" width="3" height="5" fill="#f23645"/>
<rect x="453" y="306" width="1" height="13" fill="#f23645"/>
<rect x="452" y="310" width="3" height="2" fill="#f23645"/>
<rect x="456" y="295" width="1" height="20" fill="#089981"/>
<rect x="455" y="306" width="3" height="6" fill="#089981"/>
<rect x="459" y="301" width="1" height="7" fill="#089981"/>
<rect x="458" y="304" width="3" height="2" fill="#089981"/>
<rect x="462" y="303" width="1" height="8" fill="#f23645"/>
<rect x="461" y="303" width="3" height="6" fill="#f23645"/>
<rect x="466" y="301" width="1" height="19" fill="#089981"/>
<rect x="465" y="301" width="3" height="8" fill="#089981"/>
<rect x="469" y="300" width="1" height="20" fill="#f23645"/>
<rect x="468" y="302" width="3" height="8" fill="#f23645"/>
<rect x="472" y="302" width="1" height="18" fill="#089981"/>
<rect x="471" y="306" width="3" height="4" fill="#089981"/>
<rect x="475" y="290" width="1" height="17" fill="#089981"/>
<rect x="474" y="298" width="3" height="9" fill="#089981"/>
<rect x="478" y="289" width="1" height="9" fill="#089981"/>
<rect x="477" y="295" width="3" height="3" fill="#089981"/>
<rect x="481" y="291" width="1" height="13" fill="#f23645"/>
<rect x="480" y="295" width="3" height="4" fill="#f23645"/>
<rect x="485" y="279" width="1" height="19" fill="#089981"/>
<rect x="484" y="284" width="3" height="14" fill="#089981"/>
<rect x="488" y="278" width="1" height="13" fill="#089981"/>
<rect x="487" y="280" width="3" height="5" fill="#089981"/>
<rect x="491" y="280" width="1" height="14" fill="#f23645"/>
<rect x="490" y="280" width="3" height="5" fill="#f23645"/>
<rect x="494" y="279" width="1" height="5" fill="#089981"/>
<rect x="493" y="281" width="3" height="3" fill="#089981"/>
<rect x="497" y="283" width="1" height="5" fill="#f23645"/>
<rect x="496" y="284" width="3" height="1" fill="#f23645"/>
<rect x="501" y="284" width="1" height="6" fill="#f23645"/>
<rect x="500" y="284" width="3" height="5" fill="#f23645"/>
<rect x="504" y="287" width="1" height="6" fill="#f23645"/>
<rect x="503" y="289" width="3" height="2" fill="#f23645"/>
<rect x="507" y="290" width="1" height="6" fill="#f23645"/>
<rect x="506" y="291" width="3" height="4" fill="#f23645"/>
<rect x="509" y="293" width="3" height="7" fill="#f23645"/>
<rect x="513" y="297" width="1" height="16" fill="#f23645"/>
<rect x="512" y="301" width="3" height="12" fill="#f23645"/>
<rect x="516" y="304" width="1" height="18" fill="#f23645"/>
<rect x="515" y="312" width="3" height="10" fill="#f23645"/>
<rect x="520" y="314" width="1" height="8" fill="#089981"/>
<rect x="519" y="319" width="3" height="3" fill="#089981"/>
<rect x="523" y="318" width="1" height="15" fill="#f23645"/>
<rect x="522" y="319" width="3" height="14" fill="#f23645"/>
<rect x="526" y="322" width="1" height="13" fill="#089981"/>
<rect x="525" y="324" width="3" height="8" fill="#089981"/>
<rect x="529" y="308" width="1" height="17" fill="#089981"/>
<rect x="528" y="309" width="3" height="16" fill="#089981"/>
<rect x="532" y="295" width="1" height="15" fill="#089981"/>
<rect x="531" y="302" width="3" height="8" fill="#089981"/>
<rect x="535" y="253" width="1" height="50" fill="#089981"/>
<rect x="534" y="256" width="3" height="47" fill="#089981"/>
<rect x="539" y="246" width="1" height="20" fill="#f23645"/>
<rect x="538" y="255" width="3" height="8" fill="#f23645"/>
<rect x="542" y="259" width="1" height="10" fill="#f23645"/>
<rect x="541" y="262" width="3" height="7" fill="#f23645"/>
<rect x="545" y="270" width="1" height="7" fill="#089981"/>
<rect x="544" y="271" width="3" height="5" fill="#089981"/>
<rect x="548" y="262" width="1" height="11" fill="#f23645"/>
<rect x="547" y="271" width="3" height="1" fill="#f23645"/>
<rect x="551" y="253" width="1" height="22" fill="#089981"/>
<rect x="550" y="256" width="3" height="17" fill="#089981"/>
<rect x="555" y="247" width="1" height="14" fill="#f23645"/>
<rect x="554" y="255" width="3" height="6" fill="#f23645"/>
<rect x="558" y="259" width="1" height="16" fill="#f23645"/>
<rect x="557" y="260" width="3" height="15" fill="#f23645"/>
<rect x="561" y="271" width="1" height="11" fill="#f23645"/>
<rect x="560" y="274" width="3" height="7" fill="#f23645"/>
<rect x="564" y="264" width="1" height="21" fill="#089981"/>
<rect x="563" y="265" width="3" height="17" fill="#089981"/>
<rect x="567" y="263" width="1" height="6" fill="#f23645"/>
<rect x="566" y="265" width="3" height="1" fill="#f23645"/>
<rect x="570" y="244" width="1" height="21" fill="#089981"/>
<rect x="569" y="248" width="3" height="17" fill="#089981"/>
<rect x="574" y="247" width="1" height="9" fill="#f23645"/>
<rect x="573" y="248" width="3" height="8" fill="#f23645"/>
<rect x="577" y="249" width="1" height="8" fill="#089981"/>
<rect x="576" y="253" width="3" height="4" fill="#089981"/>
<rect x="580" y="246" width="1" height="15" fill="#f23645"/>
<rect x="579" y="253" width="3" height="8" fill="#f23645"/>
<rect x="583" y="240" width="1" height="19" fill="#089981"/>
<rect x="582" y="242" width="3" height="17" fill="#089981"/>
<rect x="586" y="241" width="1" height="11" fill="#f23645"/>
<rect x="585" y="243" width="3" height="3" fill="#f23645"/>
<rect x="589" y="234" width="1" height="13" fill="#089981"/>
<rect x="588" y="237" width="3" height="10" fill="#089981"/>
<rect x="593" y="235" width="1" height="6" fill="#f23645"/>
<rect x="592" y="237" width="3" height="3" fill="#f23645"/>
<rect x="596" y="238" width="1" height="21" fill="#f23645"/>
<rect x="595" y="238" width="3" height="17" fill="#f23645"/>
<rect x="599" y="253" width="1" height="8" fill="#f23645"/>
<rect x="598" y="254" width="3" height="5" fill="#f23645"/>
<rect x="602" y="258" width="1" height="7" fill="#f23645"/>
<rect x="601" y="258" width="3" height="5" fill="#f23645"/>
<rect x="605" y="254" width="1" height="10" fill="#089981"/>
<rect x="604" y="255" width="3" height="8" fill="#089981"/>
<rect x="608" y="249" width="1" height="18" fill="#f23645"/>
<rect x="607" y="255" width="3" height="4" fill="#f23645"/>
<rect x="612" y="253" width="1" height="7" fill="#089981"/>
<rect x="611" y="258" width="3" height="1" fill="#089981"/>
<rect x="615" y="252" width="1" height="10" fill="#089981"/>
<rect x="614" y="256" width="3" height="1" fill="#089981"/>
<rect x="617" y="256" width="3" height="12" fill="#f23645"/>
<rect x="621" y="263" width="1" height="9" fill="#089981"/>
<rect x="620" y="267" width="3" height="1" fill="#089981"/>
<rect x="624" y="262" width="1" height="6" fill="#089981"/>
<rect x="623" y="265" width="3" height="2" fill="#089981"/>
<rect x="628" y="263" width="1" height="9" fill="#f23645"/>
<rect x="627" y="265" width="3" height="5" fill="#f23645"/>
<rect x="631" y="240" width="1" height="30" fill="#089981"/>
<rect x="630" y="242" width="3" height="27" fill="#089981"/>
<rect x="634" y="239" width="1" height="13" fill="#f23645"/>
<rect x="633" y="241" width="3" height="9" fill="#f23645"/>
<rect x="637" y="244" width="1" height="15" fill="#f23645"/>
<rect x="636" y="249" width="3" height="10" fill="#f23645"/>
<rect x="640" y="256" width="1" height="5" fill="#089981"/>
<rect x="639" y="257" width="3" height="2" fill="#089981"/>
<rect x="643" y="252" width="1" height="10" fill="#f23645"/>
<rect x="642" y="258" width="3" height="4" fill="#f23645"/>
<rect x="647" y="255" width="1" height="8" fill="#089981"/>
<rect x="646" y="258" width="3" height="5" fill="#089981"/>
<rect x="650" y="258" width="1" height="10" fill="#f23645"/>
<rect x="649" y="258" width="3" height="9" fill="#f23645"/>
<rect x="653" y="265" width="1" height="14" fill="#f23645"/>
<rect x="652" y="266" width="3" height="13" fill="#f23645"/>
<rect x="656" y="261" width="1" height="18" fill="#089981"/>
<rect x="655" y="264" width="3" height="15" fill="#089981"/>
<rect x="659" y="261" width="1" height="8" fill="#f23645"/>
<rect x="658" y="264" width="3" height="4" fill="#f23645"/>
<rect x="661" y="267" width="3" height="10" fill="#f23645"/>
<rect x="666" y="275" width="1" height="5" fill="#f23645"/>
<rect x="665" y="276" width="3" height="4" fill="#f23645"/>
</svg>
<svg id="logo" class="abs" style="left:420px;top:500px" width="180" height="40" viewBox="420 500 180 40">
<g fill="none" stroke="#000" stroke-width="3.6" stroke-linejoin="round">
<path d="M440.6 516.6 L444.5 507.2 L458 507.2 L461.6 514.6"/>
<path d="M446.8 530.6 L427.4 530.6 L432.3 519 L445.5 519 L450.8 530.6 L476.3 530.6 L471 519 L456.2 519 L453.7 527.2"/>
</g>
<text x="481.6" y="531.7" font-family="'Liberation Sans',sans-serif" font-weight="700" font-size="31.4" textLength="99.4" lengthAdjust="spacingAndGlyphs" fill="#000" stroke="#000" stroke-width="0.5">KITCO</text>
<text x="585.3" y="515" font-family="'Liberation Sans',sans-serif" font-weight="700" font-size="10" text-anchor="middle" fill="#000">®</text>
</svg>
<div class="abs fade" style="left:412px;top:152px;width:406px;height:27px"></div>
<div class="abs fade" style="left:412px;top:179px;width:485px;height:24px"></div>
<div class="abs fade" style="left:412px;top:203px;width:113px;height:27px"></div>
<div id="collapse" class="abs"><svg width="34" height="24" viewBox="0 0 34 24" style="display:block"><path d="M11.4 14.6 L16.6 9.6 L21.8 14.6" fill="none" stroke="#131722" stroke-width="1.9"/></svg></div>
<div id="dotline" class="abs"></div>
<svg id="icons" class="abs" style="left:407px;top:95px" width="786" height="48" viewBox="407 95 786 48" fill="none" stroke="#131722">
<g stroke-width="1.9">
<circle cx="426.9" cy="118" r="6.3"/>
<path d="M431.6 122.8 L436.6 127.8" stroke-linecap="square"/>
</g>
<g stroke-width="1.25">
<circle cx="554.6" cy="118.9" r="11.2"/>
<path d="M549 118.9 H560.2 M554.6 113.3 V124.5"/>
</g>
<g stroke-width="1.1">
<path d="M721.8 116.6 L726.1 120.6 L730.4 116.6"/>
<path d="M905.3 116.6 L909.8 120.6 L914.3 116.6"/>
</g>
<g stroke-width="1.1" shape-rendering="crispEdges">
<path d="M771.5 110 V130 M767 126.5 H771.5 M771.5 111.5 H775 M782.5 108 V128 M778 117.5 H782.5 M782.5 124.5 H787"/>
<path d="M818.5 106 V110 M818.5 127 V131 M816.5 110.5 H821.5 V127.5 H816.5 Z M828.5 109 V114 M828.5 123 V127 M826.5 114.5 H831.5 V123.5 H826.5 Z"/>
</g>
<g stroke-width="1.2">
<path d="M856.8 122.6 L870.2 113.2 L874.6 119 L885.6 107.6"/>
</g>
<defs><pattern id="dots" width="2" height="2" patternUnits="userSpaceOnUse"><rect x="0" y="0" width="1" height="1" fill="#131722"/><rect x="1" y="1" width="1" height="1" fill="#131722"/></pattern></defs>
<path d="M857 129 L870.2 118.4 L874.8 123.4 L886 112 V129 Z" fill="url(#dots)" stroke="none" shape-rendering="crispEdges"/>
<g stroke-width="1.1">
<path d="M949 114.6 L957.6 109.8 L962 113.4 L970.2 107.8"/>
<path d="M949.5 128.5 V122.5 H955.5 V128.5 M955.5 128.5 V119.5 H961.5 V128.5 M961.5 128.5 V116.5 H967.5 M949.5 128.5 H970.5 V115.5 H964.5 V128.5" shape-rendering="crispEdges"/>
</g>
</svg>
<svg class="abs" style="left:417px;top:152px" width="24" height="24" viewBox="0 0 24 24">
<circle cx="12.5" cy="11.9" r="11.3" fill="#d69a00"/>
<path d="M10.6 6.9 H14.6 L16.6 10.7 H8.6 Z M5.7 12 H9.7 L11.7 16 H3.7 Z M15.3 12 H19.3 L21.3 16 H13.3 Z" fill="#fff"/>
</svg>
<div id="pill" class="abs"><div class="abs" style="left:0;top:0;width:25px;height:22px;background:rgba(8,153,129,0.15)"></div><div class="abs" style="left:25px;top:0;width:25px;height:22px;background:rgba(233,30,99,0.21)"></div><div class="abs" style="left:9px;top:6px;width:10px;height:10px;border-radius:5px;background:#089981"></div></div>
<svg class="abs" style="left:1139px;top:591px" width="22" height="20" viewBox="0 0 22 20" fill="none" stroke="#131722" stroke-width="1.1">
<path d="M2.6 10 L6.9 2.8 H15.5 L19.8 10 L15.5 17.2 H6.9 Z"/><circle cx="11.2" cy="10" r="2.4"/>
</svg>
<span class="t" style="font-size:19.5px;color:#222;font-weight:700;transform:scaleX(0.9350);left:13.97px;top:14.60px;">Live Gold Price</span>
<span class="t" style="font-size:16.25px;color:#555;transform:scaleX(1.0434);left:13.80px;top:44.10px;">Mar 18, 2026 - 6:01 NY Time</span>
<span class="t" style="font-size:16.5px;color:#4a4a4a;transform:scaleX(1.0636);left:291.04px;top:87.04px;">USD</span>
<span class="t" style="font-size:16.25px;color:#333;transform:scaleX(1.1235);left:33.49px;top:123.70px;">Bid</span>
<span class="t" style="font-size:46px;color:#373737;font-weight:700;transform:scaleX(1.0823);left:173.24px;top:157.70px;">4,990.10</span>
<span class="t" style="font-size:17px;color:#f23548;font-weight:700;transform:scaleX(1.1929);left:223.69px;top:223.30px;">-14.90 (-0.30%)</span>
<span class="t" style="font-size:17.5px;color:#333;transform:scaleX(1.0379);left:31.75px;top:289.30px;">Ask</span>
<span class="t" style="font-size:25px;color:#333;transform:scaleX(0.9897);left:268.92px;top:284.70px;">4,992.10</span>
<span class="t" style="font-size:17px;color:#222;font-weight:700;transform:scaleX(1.0156);left:31.51px;top:367.50px;">Ounce</span>
<span class="t" style="font-size:17.5px;color:#333;transform:scaleX(1.0375);left:194.36px;top:367.50px;">4,990.10</span>
<span class="t" style="font-size:17.5px;color:#f0323f;transform:scaleX(1.0681);left:314.46px;top:367.50px;">-14.90</span>
<span class="t" style="font-size:17px;color:#222;font-weight:700;transform:scaleX(1.0673);left:31.48px;top:398.70px;">Gram</span>
<span class="t" style="font-size:17.5px;color:#333;transform:scaleX(1.0636);left:208.07px;top:398.70px;">160.44</span>
<span class="t" style="font-size:17.5px;color:#f0323f;transform:scaleX(1.0818);left:324.45px;top:398.70px;">-0.48</span>
<span class="t" style="font-size:17px;color:#222;font-weight:700;left:31.14px;top:429.90px;">Kilo</span>
<span class="t" style="font-size:17.5px;color:#333;transform:scaleX(1.0585);left:172.58px;top:429.90px;">160,437.90</span>
<span class="t" style="font-size:17.5px;color:#f0323f;transform:scaleX(1.0894);left:303.15px;top:429.90px;">-479.05</span>
<span class="t" style="font-size:17px;color:#222;font-weight:700;transform:scaleX(1.0480);left:31.08px;top:461.10px;">Pennyweight</span>
<span class="t" style="font-size:17.5px;color:#333;transform:scaleX(1.0773);left:207.72px;top:461.10px;">249.51</span>
<span class="t" style="font-size:17.5px;color:#f0323f;transform:scaleX(1.0807);left:324.15px;top:461.10px;">-0.74</span>
<span class="t" style="font-size:17px;color:#222;font-weight:700;transform:scaleX(1.0254);left:32.09px;top:492.30px;">Tola</span>
<span class="t" style="font-size:17.5px;color:#333;transform:scaleX(1.0573);left:193.18px;top:492.30px;">1,871.29</span>
<span class="t" style="font-size:17.5px;color:#f0323f;transform:scaleX(1.0938);left:324.14px;top:492.30px;">-5.59</span>
<span class="t" style="font-size:17px;color:#222;font-weight:700;transform:scaleX(1.0577);left:32.08px;top:523.50px;">Tael</span>
<span class="t" style="font-size:17.5px;color:#333;transform:scaleX(1.0662);left:192.53px;top:523.50px;">6,064.36</span>
<span class="t" style="font-size:17.5px;color:#f0323f;transform:scaleX(1.1333);left:313.11px;top:523.50px;">-18.11</span>
<span class="t" style="font-size:17.5px;color:#333;transform:scaleX(1.0582);left:42.46px;top:600.40px;">4977.50</span>
<span class="t" style="font-size:17.5px;color:#333;transform:scaleX(1.0633);left:290.24px;top:600.40px;">5017.40</span>
<span class="t" style="font-size:18px;color:#333;transform:scaleX(1.0165);left:147.38px;top:650.60px;">Day&#x27;s Range</span>
<span class="t" style="font-size:17.5px;color:#131722;font-weight:700;transform:scaleX(0.8921);left:444.57px;top:111.00px;">XAUUSD</span>
<span class="t" style="font-size:16.5px;color:#131722;-webkit-text-stroke:0.3px #131722;transform:scaleX(1.0958);left:598.31px;top:111.04px;">1m</span>
<span class="t" style="font-size:16.5px;color:#131722;-webkit-text-stroke:0.3px #131722;transform:scaleX(1.0579);left:636.82px;top:111.04px;">30m</span>
<span class="t" style="font-size:16.5px;color:#131722;-webkit-text-stroke:0.3px #131722;transform:scaleX(1.0317);left:685.09px;top:111.04px;">1h</span>
<span class="t" style="font-size:17.5px;color:#131722;-webkit-text-stroke:0.3px #131722;transform:scaleX(1.0247);left:982.14px;top:111.00px;">Indicators</span>
<span class="t" style="font-size:20px;color:#131722;-webkit-text-stroke:0.3px #131722;left:445.04px;top:155.00px;">Gold</span>
<span class="t" style="font-size:20px;color:#131722;-webkit-text-stroke:0.3px #131722;transform:scaleX(0.9844);left:491.86px;top:155.00px;">Spot</span>
<span class="t" style="font-size:20px;color:#131722;-webkit-text-stroke:0.3px #131722;left:540.95px;top:155.00px;">/</span>
<span class="t" style="font-size:20px;color:#131722;-webkit-text-stroke:0.3px #131722;transform:scaleX(0.9570);left:553.61px;top:155.00px;">U.S.</span>
<span class="t" style="font-size:20px;color:#131722;-webkit-text-stroke:0.3px #131722;transform:scaleX(1.0246);left:597.22px;top:155.00px;">Dollar</span>
<span class="t" style="font-size:20px;color:#131722;-webkit-text-stroke:0.3px #131722;left:656.01px;top:155.00px;">·</span>
<span class="t" style="font-size:20px;color:#131722;-webkit-text-stroke:0.3px #131722;left:666.66px;top:155.00px;">1</span>
<span class="t" style="font-size:20px;color:#131722;-webkit-text-stroke:0.3px #131722;left:680.01px;top:155.00px;">·</span>
<span class="t" style="font-size:20px;color:#131722;-webkit-text-stroke:0.3px #131722;transform:scaleX(0.8708);left:691.32px;top:155.00px;">OANDA</span>
<span class="t" style="font-size:17px;color:#131722;-webkit-text-stroke:0.3px #131722;transform:scaleX(0.9395);left:425.07px;top:634.62px;">1D</span>
<span class="t" style="font-size:17px;color:#131722;-webkit-text-stroke:0.3px #131722;transform:scaleX(0.9228);left:459.72px;top:634.62px;">5D</span>
<span class="t" style="font-size:17px;color:#131722;-webkit-text-stroke:0.3px #131722;transform:scaleX(0.9929);left:494.60px;top:634.62px;">1M</span>
<span class="t" style="font-size:17px;color:#131722;-webkit-text-stroke:0.3px #131722;transform:scaleX(0.9619);left:530.89px;top:634.62px;">3M</span>
<span class="t" style="font-size:17px;color:#131722;-webkit-text-stroke:0.3px #131722;transform:scaleX(0.9876);left:567.01px;top:634.62px;">6M</span>
<span class="t" style="font-size:17px;color:#131722;-webkit-text-stroke:0.3px #131722;transform:scaleX(0.9242);left:604.05px;top:634.62px;">YTD</span>
<span class="t" style="font-size:17px;color:#131722;-webkit-text-stroke:0.3px #131722;transform:scaleX(0.9806);left:649.41px;top:634.62px;">1Y</span>
<span class="t" style="font-size:17px;color:#131722;-webkit-text-stroke:0.3px #131722;transform:scaleX(0.9254);left:684.51px;top:634.62px;">5Y</span>
<span class="t" style="font-size:17px;color:#131722;-webkit-text-stroke:0.3px #131722;transform:scaleX(1.1515);left:718.01px;top:634.62px;">All</span>
<span class="t" style="font-size:17px;color:#131722;-webkit-text-stroke:0.3px #131722;transform:scaleX(1.0115);left:1059.77px;top:634.72px;">06:01:41</span>
<span class="t" style="font-size:17px;color:#131722;-webkit-text-stroke:0.3px #131722;transform:scaleX(0.9705);left:1132.71px;top:634.72px;">UTC-4</span>
<span class="t" style="font-size:15px;color:#131722;-webkit-text-stroke:0.3px #131722;left:1115.47px;top:147.32px;">5,020.000</span>
<span class="t" style="font-size:15px;color:#131722;-webkit-text-stroke:0.3px #131722;left:1115.47px;top:193.32px;">5,015.000</span>
<span class="t" style="font-size:15px;color:#131722;-webkit-text-stroke:0.3px #131722;left:1115.47px;top:239.32px;">5,010.000</span>
<span class="t" style="font-size:15px;color:#131722;-webkit-text-stroke:0.3px #131722;left:1115.47px;top:285.32px;">5,005.000</span>
<span class="t" style="font-size:15px;color:#131722;-webkit-text-stroke:0.3px #131722;left:1115.47px;top:331.32px;">5,000.000</span>
<span class="t" style="font-size:15px;color:#131722;-webkit-text-stroke:0.3px #131722;transform:scaleX(0.9918);left:1115.94px;top:377.32px;">4,995.000</span>
<span class="t" style="font-size:15px;color:#131722;-webkit-text-stroke:0.3px #131722;transform:scaleX(0.9918);left:1115.94px;top:422.32px;">4,990.000</span>
<span class="t" style="font-size:15px;color:#131722;-webkit-text-stroke:0.3px #131722;transform:scaleX(0.9918);left:1115.94px;top:468.32px;">4,985.000</span>
<span class="t" style="font-size:15px;color:#131722;-webkit-text-stroke:0.3px #131722;transform:scaleX(0.9918);left:1115.94px;top:514.32px;">4,980.000</span>
<span class="t" style="font-size:15px;color:#131722;-webkit-text-stroke:0.3px #131722;transform:scaleX(0.9918);left:1115.94px;top:560.32px;">4,975.000</span>
<div id="plabel" class="abs"></div><div id="vlabel" class="abs"></div>
<span class="t" style="font-size:15px;color:#131722;font-weight:700;transform:scaleX(1.0745);left:477.23px;top:592.60px;">03:00</span>
<span class="t sf" style="font-size:16px;color:#131722;transform:scaleX(1.0225);left:574.35px;top:592.60px;">03:30</span>
<span class="t" style="font-size:15px;color:#131722;font-weight:700;transform:scaleX(1.0745);left:667.43px;top:592.60px;">04:00</span>
<span class="t sf" style="font-size:16px;color:#131722;transform:scaleX(1.0225);left:765.15px;top:592.60px;">04:30</span>
<span class="t" style="font-size:15px;color:#131722;font-weight:700;transform:scaleX(1.0745);left:858.13px;top:592.60px;">05:00</span>
<span class="t sf" style="font-size:16px;color:#131722;transform:scaleX(1.0225);left:955.35px;top:592.60px;">05:30</span>
<span class="t" style="font-size:15px;color:#131722;font-weight:700;transform:scaleX(1.0745);left:1048.23px;top:592.60px;">06:00</span>
<span class="t" style="font-size:15.5px;color:#131722;-webkit-text-stroke:0.3px #131722;left:417.01px;top:182.08px;">O</span>
<span class="t" style="font-size:15px;color:#f23645;-webkit-text-stroke:0.3px #f23645;transform:scaleX(1.0667);left:429.32px;top:182.22px;">4,991.255</span>
<span class="t" style="font-size:15.5px;color:#131722;-webkit-text-stroke:0.3px #131722;left:507.62px;top:182.08px;">H</span>
<span class="t" style="font-size:15px;color:#f23645;-webkit-text-stroke:0.3px #f23645;transform:scaleX(1.0819);left:519.11px;top:182.22px;">4,991.365</span>
<span class="t" style="font-size:15.5px;color:#131722;-webkit-text-stroke:0.3px #131722;left:598.92px;top:182.08px;">L</span>
<span class="t" style="font-size:15px;color:#f23645;-webkit-text-stroke:0.3px #f23645;transform:scaleX(1.0743);left:608.91px;top:182.22px;">4,990.935</span>
<span class="t" style="font-size:15.5px;color:#131722;-webkit-text-stroke:0.3px #131722;left:687.37px;top:182.08px;">C</span>
<span class="t" style="font-size:15px;color:#f23645;-webkit-text-stroke:0.3px #f23645;transform:scaleX(1.0712);left:699.61px;top:182.22px;">4,990.945</span>
<span class="t" style="font-size:15px;color:#f23645;-webkit-text-stroke:0.3px #f23645;transform:scaleX(1.0359);left:777.87px;top:182.22px;">−0.330 (−0.01%)</span>
<span class="t" style="font-size:16.25px;color:#131722;-webkit-text-stroke:0.3px #131722;transform:scaleX(0.9933);left:418.02px;top:206.50px;">Vol · Ticks</span>
<span class="t sf" style="font-size:16.25px;color:#ef5350;transform:scaleX(1.1046);left:501.09px;top:207.50px;">65</span>
<span class="t" style="font-size:19px;color:#d81b60;font-weight:700;left:794.38px;top:153.60px;">≈</span>
<span class="t" style="font-size:15px;color:#fff;-webkit-text-stroke:0.3px #fff;left:1115.44px;top:414.82px;">4,990.945</span>
<span class="t sf" style="font-size:16.25px;color:#fff;transform:scaleX(1.0377);left:1115.14px;top:564.40px;">65</span>
</body>
</html>
